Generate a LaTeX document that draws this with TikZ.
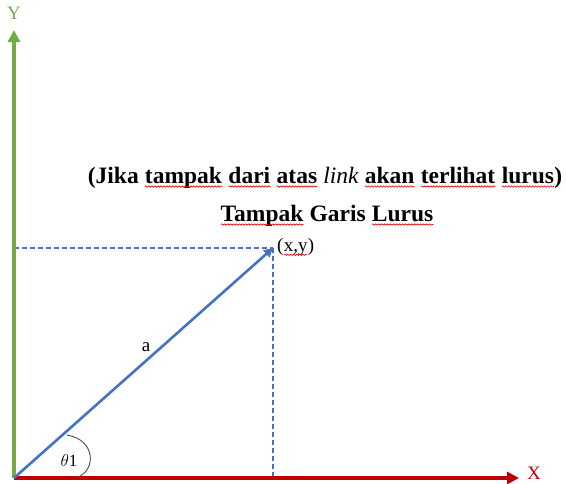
\documentclass[tikz,border=0pt]{standalone}
\usepackage{fontspec}
\setmainfont{Liberation Serif}
\usetikzlibrary{arrows.meta,decorations.pathmorphing}
\definecolor{axgreen}{HTML}{70AD47}
\definecolor{axred}{HTML}{C00000}
\definecolor{lnblue}{HTML}{4472C4}
\tikzset{squig/.style={red!85!black,line width=0.6pt,decorate,decoration={snake,amplitude=0.7pt,segment length=3pt}}}
\newcommand{\sq}[1]{\tikz[baseline=(w.base)]{\node[inner sep=0pt,outer sep=0pt] (w) {#1};
  \draw[squig] ([yshift=-3.5pt]w.base west) -- ([yshift=-3.5pt]w.base east);}}
\begin{document}
\begin{tikzpicture}[x=1pt,y=-1pt,
  axis/.style={line width=3.5pt,-{Triangle[length=12pt,width=12pt]}},
  dash line/.style={lnblue,line width=1.3pt,dash pattern=on 5pt off 3pt},
  lbl/.style={inner sep=0pt,font=\fontsize{19}{22}\selectfont},
  title/.style={inner sep=0pt,anchor=base,font=\fontsize{23.5}{26}\selectfont\bfseries}]
\useasboundingbox (0,0) rectangle (566,483);
\coordinate (O) at (14,478);
\coordinate (P) at (273,248);
\coordinate (Ytop) at (14,30);
\coordinate (Xend) at (519,478);
\coordinate (Yp) at (14,248);
\coordinate (Xp) at (273,478);
% dashed projections
\draw[dash line] (Yp) -- (P);
\draw[dash line] (P) -- (Xp);
% axes
\draw[axis,axgreen] (O) -- (Ytop);
\draw[axis,axred] (O) -- (Xend);
% vector
\draw[lnblue,line width=2.6pt,-{Triangle[length=9pt,width=9pt]}] (O) -- (P);
% angle arc
\coordinate (A1) at (67,435);
\coordinate (A2) at (78,477);
\draw[black!70,line width=0.9pt] (A1) .. controls (96,440) and (96,470) .. (A2);
% labels
\node[lbl,text=axgreen] (ylab) at (14,13) {Y};
\node[lbl,text=axred] (xlab) at (534,473) {X};
\node[lbl] (alab) at (146,347) {a};
\node[inner sep=0pt,font=\fontsize{17}{20}\selectfont] (th) at (69,460) {$\theta$1};
\node[lbl,anchor=west] (xy) at (277,247) {(\sq{x,y})};
\node[title] (t1) at (325,183) {(Jika \sq{tampak} \sq{dari} \sq{atas} {\mdseries\itshape link} \sq{akan} \sq{terlihat} \sq{lurus})};
\node[title] (t2) at (327,221) {\sq{Tampak} Garis \sq{Lurus}};
\end{tikzpicture}
\end{document}
